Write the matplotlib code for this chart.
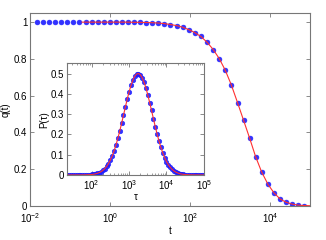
import matplotlib
matplotlib.use('Agg')
import matplotlib.pyplot as plt
from matplotlib.ticker import FixedLocator, NullLocator, LogLocator, NullFormatter

plt.rcParams['font.family'] = ['Liberation Sans', 'DejaVu Sans']
plt.rcParams['mathtext.default'] = 'regular'
plt.rcParams['font.size'] = 7

# --- main curve q(t): log10(t) of each dot, and q ---
main_logt = [-1.83, -1.68, -1.53, -1.37, -1.22, -1.07, -0.92, -0.77, -0.61, -0.46,
             -0.31, -0.16, 0.00, 0.15, 0.30, 0.45, 0.60, 0.75, 0.91, 1.06,
             1.21, 1.36, 1.51, 1.67, 1.82, 1.97, 2.12, 2.27, 2.43, 2.58,
             2.73, 2.88, 3.03, 3.19, 3.34, 3.49, 3.64, 3.79, 3.95, 4.10,
             4.25, 4.40, 4.55, 4.71, 4.86]
main_q = [1.000, 1.000, 1.000, 1.000, 1.000, 1.000, 1.000, 1.000, 1.000, 1.000,
          1.000, 1.000, 1.000, 1.000, 1.000, 1.000, 0.999, 0.999, 0.998, 0.997,
          0.995, 0.992, 0.987, 0.981, 0.972, 0.959, 0.943, 0.922, 0.890, 0.851,
          0.802, 0.739, 0.660, 0.561, 0.465, 0.369, 0.268, 0.185, 0.117, 0.071,
          0.038, 0.020, 0.010, 0.004, 0.002]
# red fit line: starts near t=0.2 and runs to the right edge
fit_logt = [-0.70] + main_logt[9:] + [5.0]
fit_q = [1.000] + main_q[9:] + [0.001]

# --- inset P(tau) ---
ins_logtau = [1.35, 1.40, 1.45, 1.50, 1.55, 1.60, 1.65, 1.70, 1.75, 1.80,
              1.85, 1.90, 1.95, 2.00, 2.05, 2.10, 2.15, 2.20, 2.25, 2.30,
              2.35, 2.40, 2.45, 2.50, 2.55, 2.60, 2.65, 2.70, 2.75, 2.80,
              2.85, 2.90, 2.95, 3.00, 3.05, 3.10, 3.15, 3.20, 3.25, 3.30,
              3.35, 3.40, 3.45, 3.50, 3.55, 3.60, 3.65, 3.70, 3.75, 3.80,
              3.85, 3.90, 3.95, 4.00, 4.05, 4.10, 4.15, 4.20, 4.25, 4.30,
              4.35, 4.40, 4.45, 4.50, 4.55, 4.60, 4.65, 4.70, 4.75, 4.80,
              4.85, 4.90, 4.95, 5.00]
ins_p = [0.0, 0.0, 0.0, 0.0, 0.0, 0.0, 0.0, 0.0001, 0.0002, 0.0004,
         0.0006, 0.0009, 0.0015, 0.0023, 0.0035, 0.0053, 0.0078, 0.0114, 0.0162, 0.0227,
         0.0313, 0.0423, 0.0563, 0.0736, 0.0945, 0.119, 0.148, 0.180, 0.216, 0.254,
         0.294, 0.334, 0.373, 0.409, 0.441, 0.467, 0.486, 0.497, 0.500, 0.494,
         0.479, 0.457, 0.429, 0.395, 0.357, 0.318, 0.278, 0.238, 0.201, 0.167,
         0.136, 0.109, 0.0857, 0.0662, 0.0503, 0.0376, 0.0276, 0.0199, 0.0141, 0.0098,
         0.0067, 0.0045, 0.0030, 0.0019, 0.0012, 0.0008, 0.0005, 0.0003, 0.0002, 0.0001,
         0.0, 0.0, 0.0, 0.0]

main_t = [10 ** v for v in main_logt]
fit_t = [10 ** v for v in fit_logt]
ins_tau = [10 ** v for v in ins_logtau]

DOT = '#1c1cff'
LINE = '#ff3030'
FRAME = '#777777'


def style_axes(ax):
    for s in ax.spines.values():
        s.set_color(FRAME)
        s.set_linewidth(0.8)
    ax.tick_params(which='both', direction='in', top=True, right=True,
                   color=FRAME, labelsize=7, pad=2)
    ax.tick_params(which='major', length=3, width=0.6)
    ax.tick_params(which='minor', length=1.5, width=0.5)


fig = plt.figure(figsize=(3.26, 2.40), dpi=100)

ax = fig.add_axes([0.092, 0.142, 0.859, 0.804])
ax.semilogx(main_t, main_q, 'o', ms=3.5, mfc=DOT, mec=DOT, mew=0.4, alpha=0.9)
ax.semilogx(fit_t, fit_q, '-', color=LINE, lw=0.8)
ax.set_xlim(1e-2, 1e5)
ax.set_ylim(0, 1.05)
ax.xaxis.set_major_locator(FixedLocator([1e-2, 1e0, 1e2, 1e4]))
ax.xaxis.set_minor_locator(NullLocator())
ax.set_yticks([0, 0.2, 0.4, 0.6, 0.8, 1.0])
ax.set_yticklabels(['0', '0.2', '0.4', '0.6', '0.8', '1'])
ax.set_xlabel('t', labelpad=1)
ax.set_ylabel('q(t)', labelpad=2)
style_axes(ax)
ax.tick_params(axis='x', pad=3.5)

ins = fig.add_axes([0.2045, 0.271, 0.421, 0.465])
ins.semilogx(ins_tau, ins_p, 'o', ms=3.3, mfc=DOT, mec=DOT, mew=0.4, alpha=0.9)
ins.semilogx(ins_tau, ins_p, '-', color=LINE, lw=0.8)
ins.set_xlim(21.5, 1e5)
ins.set_ylim(0, 0.55)
ins.xaxis.set_major_locator(FixedLocator([1e2, 1e3, 1e4, 1e5]))
ins.xaxis.set_minor_locator(LogLocator(base=10, subs=range(2, 10)))
ins.xaxis.set_minor_formatter(NullFormatter())
ins.set_yticks([0, 0.1, 0.2, 0.3, 0.4, 0.5])
ins.set_yticklabels(['0', '0.1', '0.2', '0.3', '0.4', '0.5'])
ins.set_xlabel('\u03c4', labelpad=0)
ins.set_ylabel('P(\u03c4)', labelpad=1)
style_axes(ins)

fig.savefig('out.png', dpi=100)
